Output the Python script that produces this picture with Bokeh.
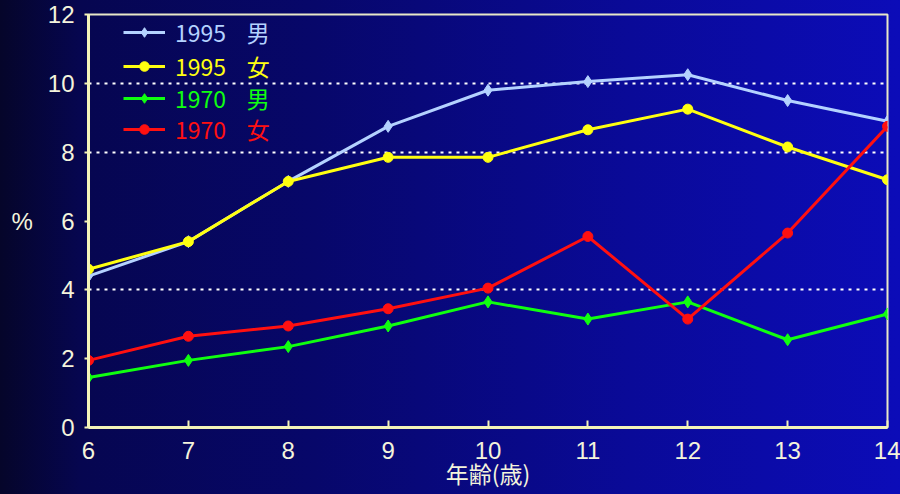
from bokeh.plotting import figure
from bokeh.models import Range1d, FixedTicker, Legend, LegendItem
from bokeh.embed import file_html
from bokeh.resources import INLINE

ages = [6, 7, 8, 9, 10, 11, 12, 13, 14]
m1995 = [4.4, 5.4, 7.15, 8.75, 9.8, 10.05, 10.25, 9.5, 8.9]
f1995 = [4.6, 5.4, 7.15, 7.85, 7.85, 8.65, 9.25, 8.15, 7.2]
m1970 = [1.45, 1.95, 2.35, 2.95, 3.65, 3.15, 3.65, 2.55, 3.3]
f1970 = [1.95, 2.65, 2.95, 3.45, 4.05, 5.55, 3.15, 5.65, 8.75]
gap = "\u00a0" * 4
series_labels = ["1995" + gap + "男", "1995" + gap + "女", "1970" + gap + "男", "1970" + gap + "女"]
y_ticks = [0, 2, 4, 6, 8, 10, 12]
grid_ticks = [4, 8, 10]
x_title = "年齢(歳)"
y_title = "%"

colors = ["#b4d2ff", "#ffff10", "#10ff10", "#ff1010"]
markers = ["diamond", "circle", "diamond", "circle"]
msizes = [12, 10, 12, 10]

p = figure(width=900, height=494, output_backend="svg", toolbar_location=None,
           x_range=Range1d(6, 14), y_range=Range1d(0, 12),
           min_border_left=88, min_border_right=13, min_border_top=14, min_border_bottom=67,
           styles={"background": "linear-gradient(to right, #05052a 0%, #060650 9%, #07076a 35%, #0a0a98 70%, #0c0cb8 100%)"})
p.border_fill_color = None
p.background_fill_color = None
p.outline_line_color = "#e8e8c8"
p.outline_line_width = 2

tick_font = "Liberation Sans"
lab_color = "#f4f4dc"
for ax in (p.xaxis[0], p.yaxis[0]):
    ax.axis_line_color = "#f4f4b8"
    ax.axis_line_width = 3
    ax.major_tick_line_color = "#f4f4b8"
    ax.major_tick_line_width = 2
    ax.minor_tick_line_color = None
    ax.major_label_text_font = tick_font
    ax.major_label_text_font_size = "24px"
    ax.major_label_text_color = lab_color
    ax.axis_label_text_font_style = "normal"
    ax.axis_label_text_color = lab_color

p.xaxis.ticker = FixedTicker(ticks=ages)
p.xaxis.major_tick_in = 7
p.xaxis.major_tick_out = 0
p.xaxis.major_label_standoff = 14
p.xaxis.axis_label = x_title
p.xaxis.axis_label_text_font = "Noto Sans CJK JP"
p.xaxis.axis_label_text_font_size = "23px"
p.xaxis.axis_label_standoff = -6

p.yaxis.ticker = FixedTicker(ticks=y_ticks)
p.yaxis.major_tick_in = 0
p.yaxis.major_tick_out = 4
p.yaxis.major_label_standoff = 10
p.yaxis.axis_label = y_title
p.yaxis.axis_label_text_font = tick_font
p.yaxis.axis_label_text_font_size = "24px"
p.yaxis.axis_label_standoff = 12
try:
    p.yaxis.axis_label_orientation = "horizontal"
except Exception:
    pass

p.xgrid.grid_line_color = None
p.ygrid.ticker = FixedTicker(ticks=grid_ticks)
p.ygrid.grid_line_color = "#ffffff"
p.ygrid.grid_line_width = 2
p.ygrid.grid_line_dash = "3 5"

all_series = [m1995, f1995, m1970, f1970]
legend_y = [378, 344, 312, 281]
for i, ys in enumerate(all_series):
    ln = p.line(ages, ys, line_color=colors[i], line_width=3)
    mk = p.scatter(ages, ys, marker=markers[i], size=msizes[i], fill_color=colors[i], line_color=colors[i])
    lg = Legend(items=[LegendItem(label=series_labels[i], renderers=[ln, mk])],
                location=(35, legend_y[i]), padding=0, margin=0, spacing=0,
                glyph_width=42, glyph_height=24, label_height=24, label_width=110, label_standoff=10,
                label_text_font="Noto Sans CJK JP", label_text_font_size="23px",
                label_text_color=colors[i], background_fill_alpha=0, border_line_color=None)
    p.add_layout(lg)

open("out.html", "w").write(file_html(p, INLINE))
